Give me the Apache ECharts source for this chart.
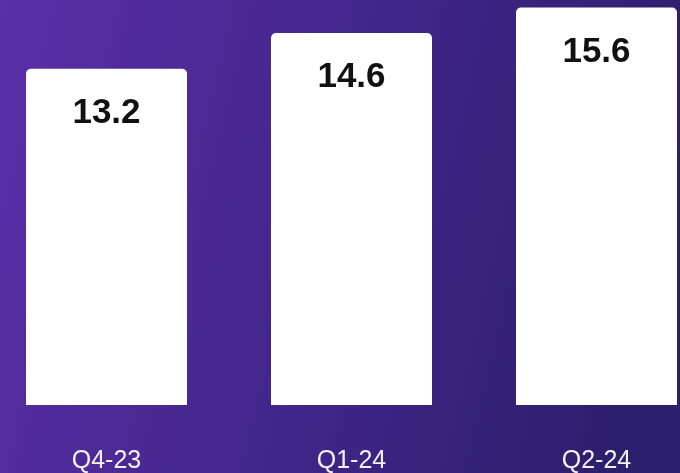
<!DOCTYPE html>
<html>
<head>
<meta charset="utf-8">
<script src="https://cdn.jsdelivr.net/npm/echarts@6/dist/echarts.min.js"></script>
<style>
  html, body { margin: 0; padding: 0; }
  #chart { width: 680px; height: 473px; }
</style>
</head>
<body>
<div id="chart"></div>
<script>
// Quarterly values shown on the white bars
const quarters = ['Q4-23', 'Q1-24', 'Q2-24'];
const values = [13.2, 14.6, 15.6];

const chart = echarts.init(document.getElementById('chart'), null, { renderer: 'canvas' });

chart.setOption({
  animation: false,
  backgroundColor: {
    type: 'linear', x: 0, y: 0, x2: 1, y2: 0.35,
    colorStops: [
      { offset: 0, color: '#5a2fa7' },
      { offset: 0.5, color: '#43268c' },
      { offset: 1, color: '#2c1f6c' }
    ]
  },
  // the plot area runs past the right edge so the last bar sits near it
  grid: {
    left: -16, width: 735, top: 5, bottom: 68,
    containLabel: false,
    outerBoundsMode: 'none'
  },
  xAxis: {
    type: 'category',
    data: quarters,
    axisLine: { show: false },
    axisTick: { show: false },
    axisLabel: {
      color: '#f4f2fa',
      fontFamily: 'Liberation Sans, Arial, sans-serif',
      fontSize: 25,
      margin: 44
    }
  },
  yAxis: {
    type: 'value',
    min: 0,
    max: 15.7,
    show: false,
    splitLine: { show: false }
  },
  series: [{
    type: 'bar',
    data: values,
    barWidth: 161,
    itemStyle: { color: '#ffffff', borderRadius: [5, 5, 0, 0] },
    label: {
      show: true,
      position: 'insideTop',
      distance: 27,
      color: '#111111',
      fontFamily: 'Liberation Sans, Arial, sans-serif',
      fontWeight: 'bold',
      fontSize: 35,
      formatter: p => p.value.toFixed(1)
    }
  }]
});
</script>
</body>
</html>
